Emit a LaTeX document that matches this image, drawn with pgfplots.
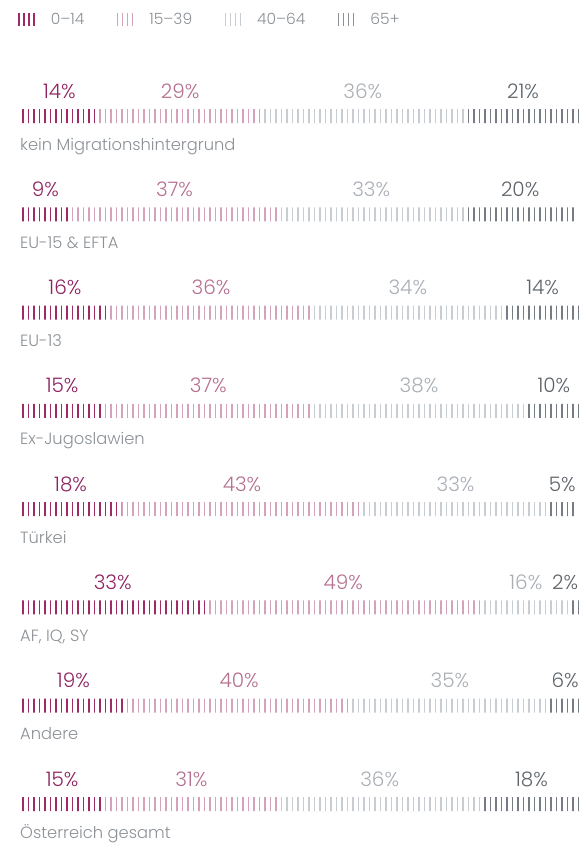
\documentclass[border=0pt]{standalone}
\usepackage{pgfplots}
\pgfplotsset{compat=1.18}
\usepackage{pgfplotstable}
\usetikzlibrary{patterns.meta}
\usepackage{fontspec}
\setmainfont{Poppins}[UprightFont=* Light]
\definecolor{c1}{HTML}{9E2A66}
\definecolor{c2}{HTML}{D4A3BB}
\definecolor{c3}{HTML}{C8CDD3}
\definecolor{c4}{HTML}{767C83}
\definecolor{t1}{HTML}{8E2360}
\definecolor{t2}{HTML}{B5708F}
\definecolor{t3}{HTML}{A9AFB5}
\definecolor{t4}{HTML}{5E646A}
\definecolor{tg}{HTML}{8C9196}

\pgfplotstableread{
row a b c d
0 14 29 36 21
1 9 37 33 20
2 16 36 34 14
3 15 37 38 10
4 18 43 33 5
5 33 49 16 2
6 19 40 35 6
7 15 31 36 18
}\data

\pgfplotsset{
  base/.style={scale only axis, width=562pt, height=688pt,
    at={(20pt,-116pt)}, anchor=north west,
    xmin=0, xmax=100, ymin=0, ymax=7, y dir=reverse, enlargelimits=false,
    clip=false, axis line style={draw=none}, tick style={draw=none},
    xtick=\empty},
  leg1/.style={legend image code/.code={\foreach \k in {0,5,10,15}{\draw[c1,line width=1.4pt] (\k pt,-6.5pt) -- (\k pt,6.5pt);}}},
  leg2/.style={legend image code/.code={\foreach \k in {0,5,10,15}{\draw[c2,line width=1.4pt] (\k pt,-6.5pt) -- (\k pt,6.5pt);}}},
  leg3/.style={legend image code/.code={\foreach \k in {0,5,10,15}{\draw[c3,line width=1.4pt] (\k pt,-6.5pt) -- (\k pt,6.5pt);}}},
  leg4/.style={legend image code/.code={\foreach \k in {0,5,10,15}{\draw[tg,line width=1.4pt] (\k pt,-6.5pt) -- (\k pt,6.5pt);}}},
  pat/.style={draw=none, pattern={Lines[angle=90, distance=5.5pt, line width=1.3pt, xshift=1pt]}, pattern color=#1},
  lab/.style={draw=none, mark=none, point meta=explicit symbolic,
    nodes near coords={\pgfplotspointmeta\%},
    every node near coord/.append style={text=#1}},
}

\begin{document}
\begin{tikzpicture}
\path[use as bounding box] (0,0) rectangle (585pt,-844pt);
\begin{axis}[base, xbar stacked, bar width=14pt,
  ytick={0,...,7},
  yticklabels={kein Migrationshintergrund, EU-15 \& EFTA, EU-13, Ex-Jugoslawien, Türkei, {AF, IQ, SY}, Andere, Österreich gesamt},
  yticklabel style={anchor=base west, inner sep=0pt, yshift=-34pt, text=tg, font=\fontsize{16.3}{16.3}\selectfont},
  legend columns=4,
  legend style={at={(axis description cs:0,1)}, anchor=west, xshift=-1.6pt, yshift=96.8pt,
    draw=none, fill=none, inner sep=0pt, outer sep=0pt,
    font=\fontsize{15.5}{15.5}\selectfont,
    nodes={inner sep=0pt, text=tg},
    /tikz/every odd column/.style={column sep=16pt},
    /tikz/every even column/.style={column sep=32.5pt}},
]
\addplot[pat=c1, leg1] table[x=a, y=row] {\data};
\addlegendentry{0–14}
\addplot[pat=c2, leg2] table[x=b, y=row] {\data};
\addlegendentry{15–39}
\addplot[pat=c3, leg3] table[x=c, y=row] {\data};
\addlegendentry{40–64}
\addplot[pat=c4, leg4] table[x=d, y=row] {\data};
\addlegendentry{65+}
\end{axis}
\begin{axis}[base, ytick=\empty,
  nodes near coords style={anchor=base, inner sep=0pt, yshift=18pt, font=\fontsize{20}{20}\selectfont}]
\addplot[lab=t1] table[x expr=\thisrow{a}/2, y=row, meta=a] {\data};
\addplot[lab=t2] table[x expr=\thisrow{a}+\thisrow{b}/2, y=row, meta=b] {\data};
\addplot[lab=t3] table[x expr=\thisrow{a}+\thisrow{b}+\thisrow{c}/2, y=row, meta=c] {\data};
\addplot[lab=t4] table[x expr={min(\thisrow{a}+\thisrow{b}+\thisrow{c}+\thisrow{d}/2,97.0)}, y=row, meta=d] {\data};
\end{axis}
\end{tikzpicture}
\end{document}
